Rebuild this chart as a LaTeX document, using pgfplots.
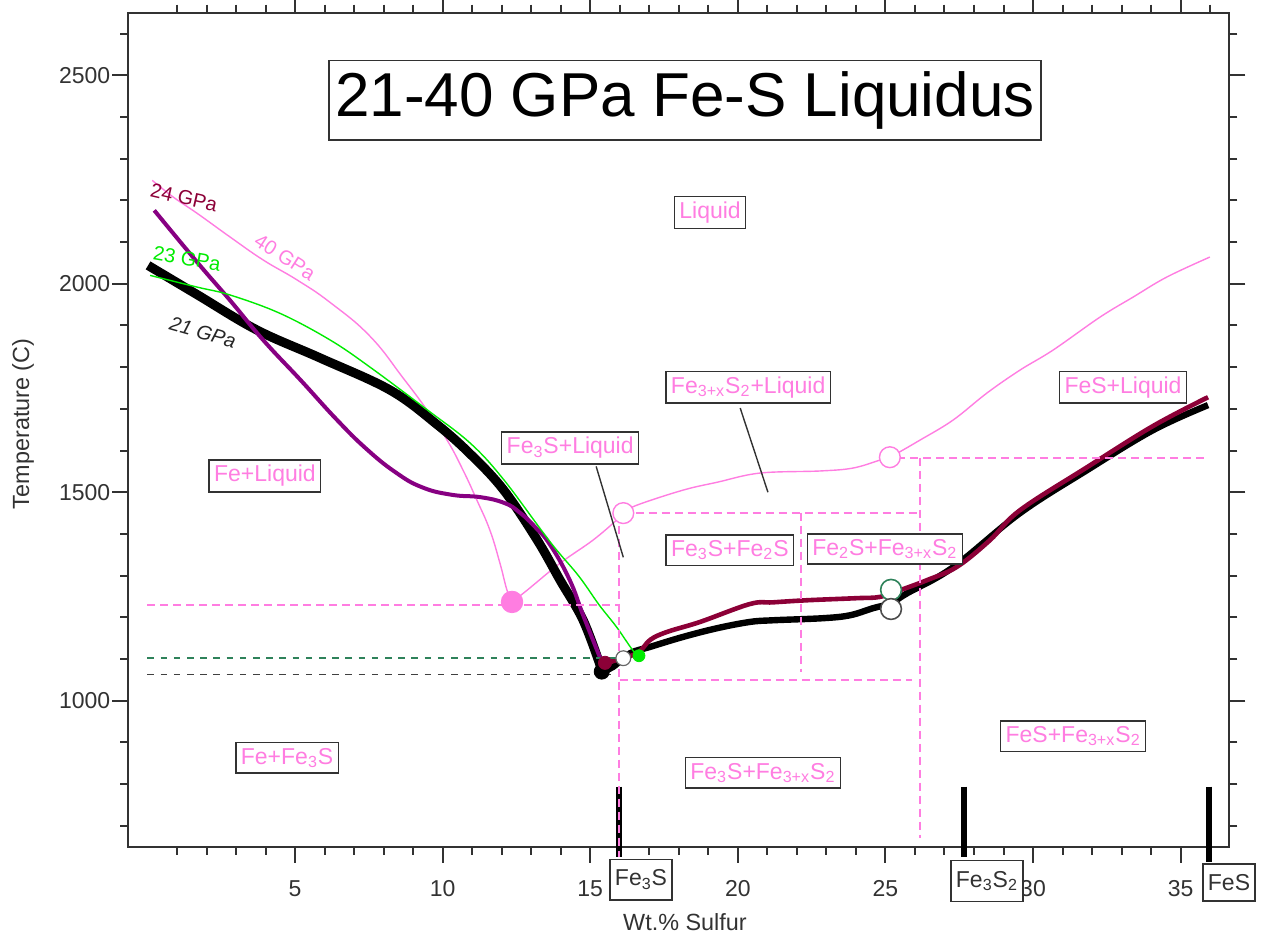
\documentclass[border=0pt]{standalone}
\usepackage{fontspec}
\setmainfont{Liberation Sans}
\usepackage{pgfplots}
\pgfplotsset{compat=1.18}
\definecolor{pk}{RGB}{255,125,225}
\definecolor{pur}{RGB}{135,0,130}
\definecolor{mar}{RGB}{140,0,55}
\definecolor{grn}{RGB}{0,235,0}
\definecolor{dgrn}{RGB}{46,130,90}
\definecolor{axc}{RGB}{50,50,50}
\tikzset{
  box/.style={draw=axc, line width=0.7pt, fill=white, inner xsep=2.5pt, inner ysep=2.6pt,
    font=\fontsize{11.5}{13}\selectfont, text=pk},
  bbox/.style={box, text=axc, inner ysep=5.2pt},
  cl/.style={font=\fontsize{10}{12}\selectfont},
}
\begin{document}
\begin{tikzpicture}
\useasboundingbox (-64.15pt,-46.15pt) rectangle (568.35pt,423.35pt);
\begin{axis}[
  scale only axis, width=550.5pt, height=417pt,
  xmin=-0.65, xmax=36.65, ymin=650, ymax=2650,
  xtick={5,10,...,35}, ytick={1000,1500,2000,2500},
  minor xtick={1,2,3,4,6,7,8,9,11,12,13,14,16,17,18,19,21,22,23,24,26,27,28,29,31,32,33,34,36},
  minor ytick={700,800,900,1100,1200,1300,1400,1600,1700,1800,1900,2100,2200,2300,2400,2600},
  tick align=outside, major tick length=8pt, minor tick length=4pt,
  tick style={axc, line width=1pt},
  axis line style={axc, line width=1pt},
  ticklabel style={font=\fontsize{11.5}{13}\selectfont, text=axc},
  xticklabel style={yshift=-5.5pt},
  yticklabel style={xshift=2.5pt},
  /pgf/number format/assume math mode=true,
  /pgf/number format/1000 sep={},
  xlabel={Wt.\% Sulfur}, ylabel={Temperature (C)},
  label style={font=\fontsize{11.7}{13}\selectfont, text=axc},
  xlabel style={at={(axis description cs:0.5056,-0.0903)}, anchor=center},
  ylabel style={at={(axis description cs:-0.0956,0.507)}, anchor=center},
  clip=false,
]
% 40 GPa (thin pink)
\addplot[pk, line width=0.7pt, smooth, tension=0.75] coordinates {
(0.16,2248) (0.87,2208) (1.68,2169) (2.80,2112) (3.92,2057) (5.07,2009) (6.19,1955)
(7.54,1874) (8.66,1774) (9.47,1697) (10.15,1625) (10.69,1553) (11.16,1481)
(11.60,1409) (11.94,1330) (12.18,1265) (12.35,1239)};
\addplot[pk, line width=0.7pt, smooth, tension=0.6] coordinates {
(12.35,1237) (12.86,1265) (13.98,1330) (15.09,1385) (15.89,1433) (16.12,1450) (16.58,1469)
(18.14,1505) (19.30,1524) (20.75,1546) (22.78,1551) (23.90,1558) (24.81,1577) (25.15,1584)
(26.17,1625) (27.29,1673) (28.44,1738) (29.56,1793) (30.68,1841) (32.27,1920) (33.39,1968)
(34.53,2016) (35.99,2064)};
% 21 GPa (thick black)
\addplot[black, line width=4.6pt, smooth, tension=0.6] coordinates {
(0.02,2044) (1.68,1974) (3.71,1889) (5.85,1822) (8.22,1745) (9.80,1663) (10.93,1592)
(12.06,1506) (13.19,1387) (13.98,1289) (14.76,1193) (15.37,1078)};
\addplot[black, line width=3.2pt, smooth, tension=0.6] coordinates {
(15.39,1070) (15.77,1081) (16.35,1114) (17.02,1129) (18.14,1153) (19.30,1174) (20.41,1189)
(21.19,1193) (22.89,1198) (23.80,1205) (24.58,1222) (25.19,1234) (25.74,1258) (27.29,1320)
(29.56,1450) (31.83,1553) (34.07,1649) (35.93,1709)};
% 24 GPa
\addplot[pur, line width=2pt, smooth, tension=0.75] coordinates {
(0.23,2176) (1.68,2052) (2.80,1960) (3.92,1865) (5.20,1768) (6.40,1675) (7.40,1605)
(8.40,1548) (9.30,1512) (10.30,1494) (11.30,1488) (12.10,1474) (12.60,1452) (13.10,1419)
(13.64,1374) (14.30,1290) (14.76,1205) (15.34,1102)};
\addplot[mar, line width=2.3pt, smooth, tension=0.6] coordinates {
(15.50,1090) (15.67,1093) (16.58,1114) (17.03,1146) (17.60,1165) (18.72,1189) (20.41,1232)
(21.19,1236) (22.34,1241) (24.03,1246) (24.81,1249) (25.49,1265) (26.40,1289) (27.42,1321)
(28.54,1385) (29.56,1457) (31.83,1560) (34.07,1659) (35.93,1728)};
% 23 GPa
\addplot[grn, line width=0.7pt, smooth, tension=0.6] coordinates {
(0.09,2020) (1.68,1992) (2.80,1973) (4.49,1929) (6.19,1865) (7.54,1800) (9.47,1698)
(10.93,1618) (12.06,1531) (13.64,1381) (14.60,1300) (15.30,1230) (15.89,1177) (16.43,1122)
(16.65,1107)};
% composition bars
\addplot[black, line width=3pt] coordinates {(15.98,794) (15.98,625)};
\addplot[black, line width=3pt] coordinates {(27.67,794) (27.67,625)};
\addplot[black, line width=3pt] coordinates {(35.97,794) (35.97,613)};
% dashed lines
\addplot[black!75, line width=0.9pt, dash pattern=on 3.3pt off 3.3pt] coordinates {(0,1063) (15.7,1063)};
\addplot[dgrn, line width=0.9pt, dash pattern=on 3.3pt off 3.3pt] coordinates {(0,1103) (16.0,1103)};
\addplot[pk, line width=0.9pt, dash pattern=on 4pt off 2.5pt] coordinates {(0,1229) (16.0,1229)};
\addplot[pk, line width=0.9pt, dash pattern=on 4pt off 2.5pt] coordinates {(16.1,1451) (26.17,1451)};
\addplot[pk, line width=0.9pt, dash pattern=on 4pt off 2.5pt] coordinates {(25.4,1583) (35.9,1583)};
\addplot[pk, line width=0.9pt, dash pattern=on 4pt off 2.5pt] coordinates {(16.0,1050) (25.9,1050)};
\addplot[pk, line width=0.9pt, dash pattern=on 4pt off 2.5pt] coordinates {(15.98,1451) (15.98,625)};
\addplot[pk, line width=0.9pt, dash pattern=on 4pt off 2.5pt] coordinates {(22.15,1451) (22.15,1069)};
\addplot[pk, line width=0.9pt, dash pattern=on 4pt off 2.5pt] coordinates {(26.17,1583) (26.17,671)};
% pointer lines
\addplot[axc, line width=0.7pt] coordinates {(15.20,1562) (16.12,1344)};
\addplot[axc, line width=0.7pt] coordinates {(20.08,1702) (21.02,1500)};
% markers
\addplot[only marks, mark=*, mark size=5.4pt, mark options={fill=pk, draw=pk}] coordinates {(12.35,1237)};
\addplot[only marks, mark=*, mark size=5.2pt, mark options={fill=white, draw=pk, line width=0.7pt}] coordinates {(16.12,1450) (25.15,1584)};
\addplot[only marks, mark=*, mark size=5.2pt, mark options={fill=white, draw=dgrn, line width=0.8pt}] coordinates {(25.19,1266)};
\addplot[only marks, mark=*, mark size=5.2pt, mark options={fill=white, draw=black!70, line width=0.8pt}] coordinates {(25.19,1220)};
\addplot[only marks, mark=*, mark size=3.7pt, mark options={fill=white, draw=black!60, line width=0.6pt}] coordinates {(16.12,1102)};
\addplot[only marks, mark=*, mark size=3.8pt, mark options={fill=black, draw=black}] coordinates {(15.39,1070)};
\addplot[only marks, mark=*, mark size=3.3pt, mark options={fill=mar, draw=mar}] coordinates {(15.50,1091)};
\addplot[only marks, mark=*, mark size=3pt, mark options={fill=grn, draw=grn}] coordinates {(16.65,1108)};
% curve labels
\node[cl, rotate=-13, text=mar] at (axis cs:1.24,2207) {24 GPa};
\node[cl, rotate=-33, text=pk] at (axis cs:4.66,2064) {40 GPa};
\node[cl, rotate=-10, text=grn] at (axis cs:1.34,2061) {23 GPa};
\node[rotate=-16, text=black!85, font=\fontsize{10}{12}\selectfont\itshape] at (axis cs:1.88,1884) {21 GPa};
% region labels
\node[box, text=black, font=\fontsize{31}{36}\selectfont, inner xsep=3pt, inner ysep=5.5pt] at (axis cs:18.21,2440) {21-40 GPa Fe-S Liquidus};
\node[box] at (axis cs:19.06,2171) {Liquid};
\node[box] at (axis cs:3.98,1539) {Fe+Liquid};
\node[box] at (axis cs:14.32,1606) {Fe\textsubscript{3}S+Liquid};
\node[box] at (axis cs:20.35,1752) {Fe\textsubscript{3+x}S\textsubscript{2}+Liquid};
\node[box] at (axis cs:33.05,1752) {FeS+Liquid};
\node[box] at (axis cs:19.73,1361) {Fe\textsubscript{3}S+Fe\textsubscript{2}S};
\node[box] at (axis cs:24.98,1364) {Fe\textsubscript{2}S+Fe\textsubscript{3+x}S\textsubscript{2}};
\node[box] at (axis cs:4.73,863) {Fe+Fe\textsubscript{3}S};
\node[box] at (axis cs:20.85,827) {Fe\textsubscript{3}S+Fe\textsubscript{3+x}S\textsubscript{2}};
\node[box] at (axis cs:31.36,915) {FeS+Fe\textsubscript{3+x}S\textsubscript{2}};
\node[bbox] at (axis cs:16.72,571) {Fe\textsubscript{3}S};
\node[bbox] at (axis cs:28.44,568) {Fe\textsubscript{3}S\textsubscript{2}};
\node[bbox] at (axis cs:36.64,564) {FeS};
\end{axis}
\end{tikzpicture}
\end{document}
